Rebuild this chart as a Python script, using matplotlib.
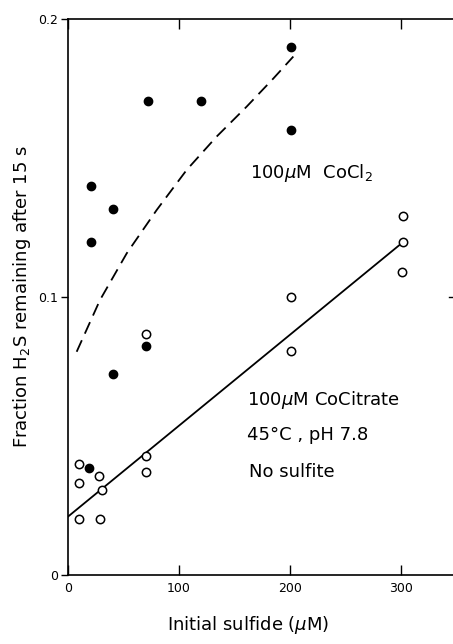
import numpy as np
import matplotlib
matplotlib.use("Agg")
import matplotlib.pyplot as plt

# 100 uM CoCl2 (filled circles)
cocl2_x = [201, 72, 120, 201, 21, 40.5, 21, 70, 40.5, 19]
cocl2_y = [0.190, 0.1705, 0.1705, 0.160, 0.140, 0.1317, 0.1198, 0.0825, 0.0723, 0.0386]

# 100 uM CoCitrate (open circles)
cocit_x = [302, 302, 301, 201, 70, 201, 70, 70, 10, 10, 28, 31, 10, 29]
cocit_y = [0.129, 0.1198, 0.109, 0.100, 0.0866, 0.0806, 0.0428, 0.0372,
           0.0399, 0.0332, 0.0357, 0.0307, 0.0201, 0.0201]

# dashed curve (CoCl2)
curve_x = [7.8, 28.8, 52.9, 79.9, 106.9, 133.9, 161, 185, 203]
curve_y = [0.0803, 0.0989, 0.1157, 0.1313, 0.1457, 0.1577, 0.1685, 0.1786, 0.1865]

# straight line (CoCitrate)
line_x = [0, 302]
line_y = [0.021, 0.1198]

xticks = [0, 100, 200, 300]
yticks = [0, 0.1, 0.2]
yticklabels = ["0", "0.1", "0.2"]

W, H = 453, 644
fig = plt.figure(figsize=(W / 100, H / 100), dpi=100)
ax = fig.add_axes([68 / W, 69 / H, 388.5 / W, 556 / H])

ax.plot(curve_x, curve_y, color="black", lw=1.3, ls=(0, (7, 4)))
ax.plot(line_x, line_y, color="black", lw=1.3)
ax.plot(cocl2_x, cocl2_y, "o", ms=6, color="black")
ax.plot(cocit_x, cocit_y, "o", ms=6, mfc="white", mec="black", mew=1.1)

ax.set_xlim(0, 350)
ax.set_ylim(0, 0.2)
ax.set_xticks(xticks)
ax.set_xticklabels(["0", "100", "200", "300"])
ax.set_yticks(yticks)
ax.set_yticklabels(yticklabels)
ax.tick_params(axis="x", direction="in", length=7, width=1, top=True,
               labelsize=9, pad=5)
ax.tick_params(axis="y", direction="out", length=5, width=1, right=False,
               labelsize=9, pad=2)
for s in ax.spines.values():
    s.set_linewidth(1.2)

# inward tick on right spine at 0.1
ax.plot([343, 350], [0.1, 0.1], color="black", lw=1, clip_on=False)

ax.text(164, 0.1446, "100$\\mu$M  CoCl$_2$", fontsize=13, va="center")
ax.text(161, 0.063, "100$\\mu$M CoCitrate", fontsize=13, va="center")
ax.text(161, 0.0504, "45°C , pH 7.8", fontsize=13, va="center")
ax.text(163, 0.037, "No sulfite", fontsize=13, va="center")

fig.text(22 / W, 1 - 297 / H, "Fraction H$_2$S remaining after 15 s",
         rotation=90, ha="center", va="center", fontsize=13)
fig.text(248 / W, 1 - 625 / H, "Initial sulfide ($\\mu$M)",
         ha="center", va="center", fontsize=13)

fig.savefig("out.png", dpi=100)
